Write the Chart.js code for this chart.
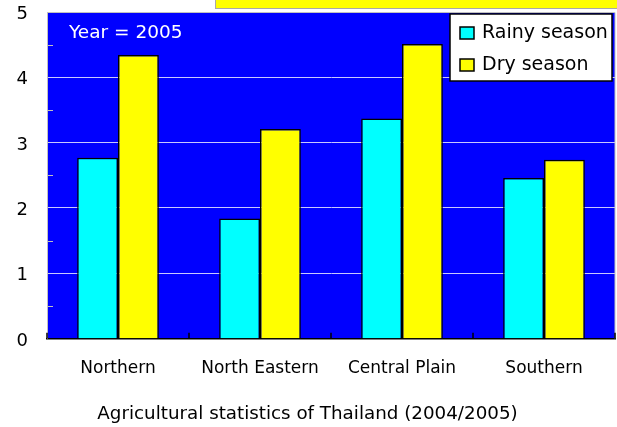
<!DOCTYPE html>
<html>
<head>
<meta charset="utf-8">
<script src="https://cdn.jsdelivr.net/npm/chart.js@4.4.0/dist/chart.umd.min.js"></script>
<style>
  body { margin: 0; background: #fff; }
</style>
</head>
<body>
<canvas id="myChart" width="617" height="427"></canvas>
<script>
const regions = ['Northern', 'North Eastern', 'Central Plain', 'Southern'];
const rainySeason = [2.77, 1.84, 3.37, 2.46];
const drySeason = [4.34, 3.21, 4.51, 2.74];
const yTicks = [0, 1, 2, 3, 4, 5];
const yearLabel = 'Year = 2005';
const chartTitle = 'Agricultural statistics of Thailand (2004/2005)';

const FONT = "'DejaVu Sans', sans-serif";

// background, plot frame, inner ticks, year label and boxed legend
const decor = {
  id: 'decor',
  beforeDraw(chart) {
    const { ctx, chartArea: a } = chart;
    ctx.save();
    ctx.fillStyle = '#fff';
    ctx.fillRect(0, 0, chart.width, chart.height);
    // yellow box cut off at the top
    ctx.fillStyle = '#ffff00';
    ctx.fillRect(215, 0, chart.width - 215, 8);
    ctx.strokeStyle = '#a8a8a8';
    ctx.lineWidth = 1;
    ctx.strokeRect(215.5, -2, chart.width, 10.5);
    // plot background
    ctx.fillStyle = '#0000ff';
    ctx.fillRect(a.left, a.top, a.right - a.left, a.bottom - a.top);
    ctx.restore();
  },
  afterDatasetsDraw(chart) {
    const { ctx, chartArea: a, scales } = chart;
    const x = scales.x, y = scales.y;
    ctx.save();
    // frame top / right
    ctx.strokeStyle = '#c0c0c0';
    ctx.lineWidth = 1;
    ctx.beginPath();
    ctx.moveTo(a.left, a.top + 0.5);
    ctx.lineTo(a.right, a.top + 0.5);
    ctx.lineTo(a.right, a.bottom);
    ctx.stroke();
    // minor ticks on the value axis
    ctx.beginPath();
    for (let i = 0; i < yTicks.length - 1; i++) {
      const py = Math.round(y.getPixelForValue(yTicks[i] + 0.5)) + 0.5;
      ctx.moveTo(a.left, py);
      ctx.lineTo(a.left + 6, py);
    }
    ctx.stroke();
    // category boundary ticks, pointing inward
    ctx.strokeStyle = '#000';
    ctx.lineWidth = 1.5;
    ctx.beginPath();
    const half = (x.getPixelForValue(1) - x.getPixelForValue(0)) / 2;
    for (let i = 0; i <= regions.length; i++) {
      const px = x.getPixelForValue(0) - half + i * half * 2;
      ctx.moveTo(px, a.bottom - 6);
      ctx.lineTo(px, a.bottom);
    }
    ctx.stroke();
    // year label
    ctx.fillStyle = '#fff';
    ctx.font = `18.5px ${FONT}`;
    ctx.textBaseline = 'middle';
    ctx.textAlign = 'left';
    ctx.fillText(yearLabel, 69, 33);
    // legend
    ctx.fillStyle = '#fff';
    ctx.fillRect(450, 14, 162, 67);
    ctx.strokeStyle = '#000';
    ctx.lineWidth = 1.5;
    ctx.strokeRect(450, 14, 162, 67);
    ctx.font = `19px ${FONT}`;
    chart.data.datasets.forEach((ds, i) => {
      const cy = 33 + i * 32;
      ctx.fillStyle = ds.backgroundColor;
      ctx.fillRect(460, cy - 6, 14, 12);
      ctx.lineWidth = 1.5;
      ctx.strokeRect(460, cy - 6, 14, 12);
      ctx.fillStyle = '#000';
      ctx.fillText(ds.label, 482, cy);
    });
    ctx.restore();
  }
};

const ctx = document.getElementById('myChart').getContext('2d');

const chart = new Chart(ctx, {
  type: 'bar',
  data: {
    labels: regions,
    datasets: [
      {
        label: 'Rainy season',
        data: rainySeason,
        backgroundColor: '#00ffff',
        borderColor: '#000',
        borderWidth: 1.5
      },
      {
        label: 'Dry season',
        data: drySeason,
        backgroundColor: '#ffff00',
        borderColor: '#000',
        borderWidth: 1.5
      }
    ]
  },
  options: {
    responsive: false,
    animation: false,
    categoryPercentage: 0.575,
    barPercentage: 1,
    layout: {
      padding: { top: 12, right: 2, left: 0, bottom: 0 }
    },
    plugins: {
      legend: { display: false },
      tooltip: { enabled: false },
      title: {
        display: true,
        position: 'bottom',
        text: chartTitle,
        color: '#000',
        font: { family: FONT, size: 18.3, weight: 'normal' },
        padding: { top: 4, bottom: 2 }
      }
    },
    scales: {
      x: {
        grid: { display: false, drawTicks: false },
        border: { color: '#000', width: 1.5 },
        ticks: {
          color: '#000',
          padding: 20,
          font: { family: FONT, size: 17 }
        }
      },
      y: {
        min: yTicks[0],
        max: yTicks[yTicks.length - 1],
        afterFit: (scale) => { scale.width = 47; },
        grid: {
          color: '#c8c8ff',
          lineWidth: 1,
          drawTicks: true,
          tickLength: 19,
          tickColor: 'rgba(0,0,0,0)'
        },
        border: { color: '#c0c0c0', width: 1 },
        ticks: {
          stepSize: 1,
          color: '#000',
          padding: 0,
          labelOffset: 2.5,
          font: { family: FONT, size: 18 }
        }
      }
    }
  },
  plugins: [decor]
});
</script>
</body>
</html>
